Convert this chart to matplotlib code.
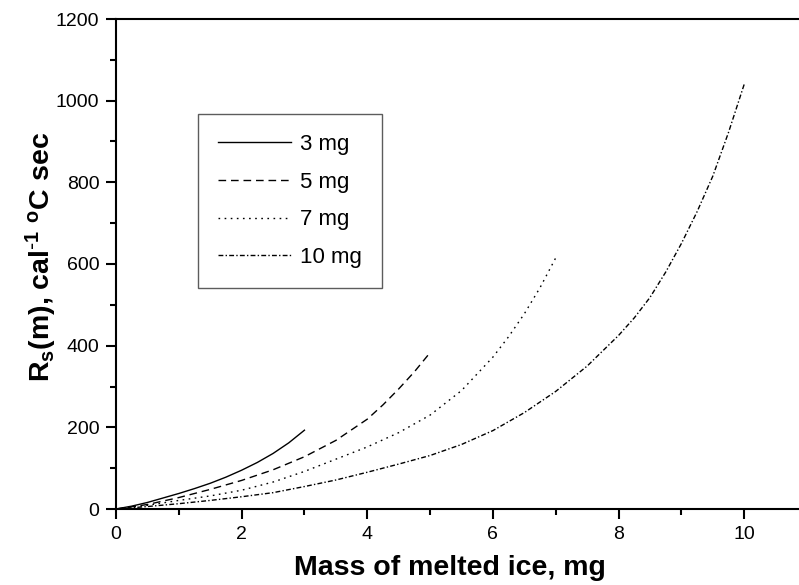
import matplotlib
matplotlib.use("Agg")
import matplotlib.pyplot as plt
from matplotlib.ticker import MultipleLocator

plt.rcParams['font.family'] = ['Liberation Sans', 'DejaVu Sans']
plt.rcParams['mathtext.default'] = 'regular'

# values
m_3 = [0, 0.25, 0.5, 0.75, 1, 1.25, 1.5, 1.75, 2, 2.25, 2.5, 2.75, 3]
r_3 = [0, 7, 16, 27, 38, 50, 63, 78, 95, 114, 136, 162, 193]

m_5 = [0, 0.5, 1, 1.5, 2, 2.5, 3, 3.5, 4, 4.25, 4.5, 4.75, 5]
r_5 = [0, 11, 28, 48, 70, 96, 128, 168, 220, 255, 294, 336, 383]

m_7 = [0, 0.5, 1, 1.5, 2, 2.5, 3, 3.5, 4, 4.5, 5, 5.5, 6, 6.25, 6.5, 6.75, 7]
r_7 = [0, 9, 21, 32, 46, 66, 92, 122, 152, 187, 230, 290, 372, 422, 478, 542, 615]

m_10 = [0, 0.5, 1, 1.5, 2, 2.5, 3, 3.5, 4, 4.5, 5, 5.5, 6, 6.5, 7, 7.5,
        8, 8.25, 8.5, 8.75, 9, 9.25, 9.5, 9.75, 10]
r_10 = [0, 6, 13, 21, 30, 40, 55, 71, 90, 110, 131, 158, 192, 236, 288, 350,
        425, 468, 518, 580, 650, 728, 815, 922, 1040]

labels = ["3 mg", "5 mg", "7 mg", "10 mg"]

fig = plt.figure(figsize=(7.99, 5.85), dpi=100)
ax = fig.add_axes([116 / 799, 76 / 585, 691 / 799, 490 / 585])

ax.plot(m_3, r_3, color="black", lw=1.0, linestyle="-", label=labels[0])
ax.plot(m_5, r_5, color="black", lw=1.0, linestyle=(0, (5.5, 3.5)), label=labels[1])
ax.plot(m_7, r_7, color="black", lw=1.0, linestyle=(0, (1.2, 3.2)), label=labels[2])
ax.plot(m_10, r_10, color="black", lw=1.0, linestyle=(0, (3.5, 1.6, 1, 1.6)), label=labels[3])

ax.set_xlim(0, 11)
ax.set_ylim(0, 1200)
ax.xaxis.set_major_locator(MultipleLocator(2))
ax.xaxis.set_minor_locator(MultipleLocator(1))
ax.yaxis.set_major_locator(MultipleLocator(200))
ax.yaxis.set_minor_locator(MultipleLocator(100))
ax.tick_params(which="major", direction="out", length=7, width=1.5, labelsize=14, pad=5)
ax.tick_params(which="minor", direction="out", length=4.5, width=1.5)
ax.tick_params(top=False, right=False)
for side in ["left", "bottom", "top"]:
    ax.spines[side].set_linewidth(1.5)
ax.spines["right"].set_visible(False)

ax.set_xlabel("Mass of melted ice, mg", fontsize=20.5, fontweight="bold")
ax.set_ylabel(r"R$_{s}$(m), cal$^{\text{-}1}$ $^{o}$C sec", fontsize=20.5, fontweight="bold")
ax.xaxis.set_label_coords(0.483, -0.094)
ax.yaxis.set_label_coords(-0.082, 0.514)

leg = ax.legend(loc="upper left", bbox_to_anchor=(0.1187, 0.806), borderaxespad=0,
                fontsize=16, frameon=True, fancybox=False, borderpad=0.9,
                labelspacing=0.75, handlelength=3.3, handletextpad=0.4)
leg.get_frame().set_edgecolor("#333333")
leg.get_frame().set_linewidth(1.0)

fig.savefig("out.png", dpi=100)
